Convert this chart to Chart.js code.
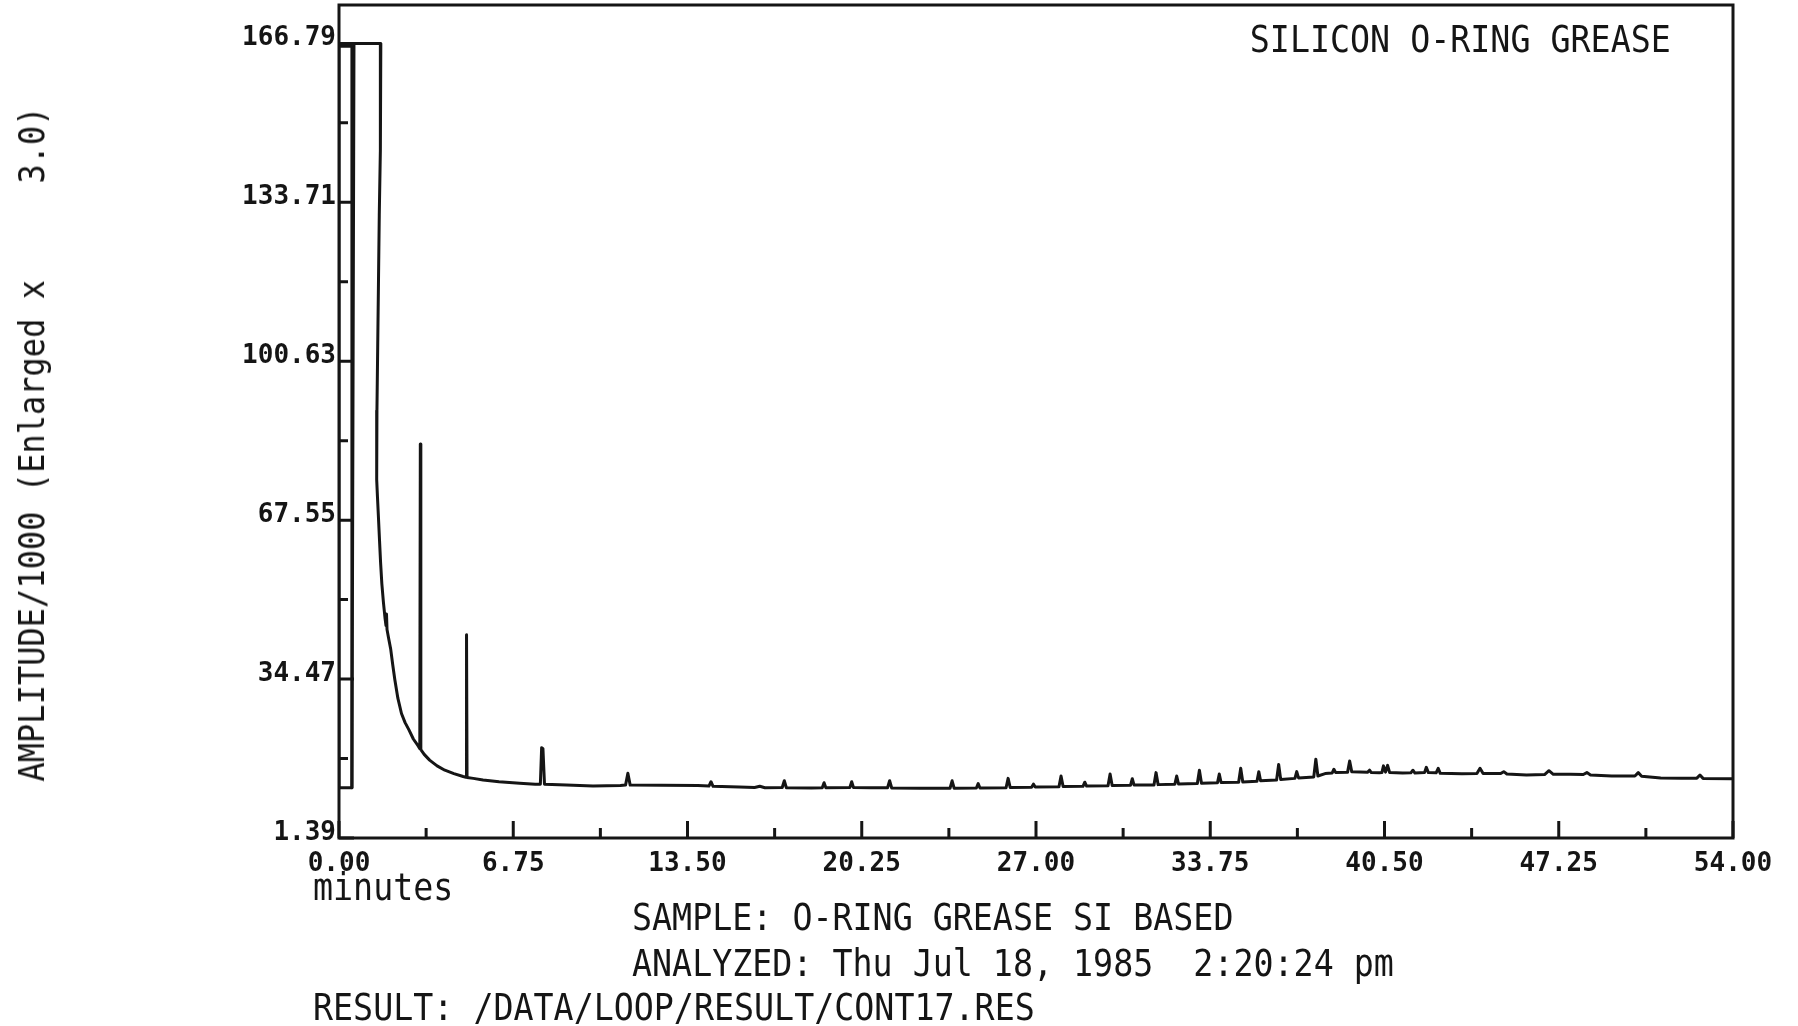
<!DOCTYPE html>
<html>
<head>
    <title>Silicon O-Ring Grease</title>
    <script src="https://cdn.jsdelivr.net/npm/chart.js"></script>
    <style>
        body { margin: 0; background: #fff; }
        #wrap { position: relative; width: 1798px; height: 1026px; }
        .txt { position: absolute; font-family: 'DejaVu Sans Mono', monospace; font-size: 37px;
               line-height: 1; color: #151515; white-space: pre; transform-origin: left top;
               transform: scaleX(0.9); }
        #title { right: 127px; top: 21px; transform-origin: right top; }
        #ytitle { left: 32px; top: 444px; font-size: 36px; transform-origin: 50% 50%;
                  transform: translate(-50%, -50%) rotate(-90deg) scaleX(0.89); }
    </style>
</head>
<body>
<div id="wrap">
    <canvas id="chromChart" width="1798" height="1026"></canvas>
    <div class="txt" id="title">SILICON O-RING GREASE</div>
    <div class="txt" id="ytitle">AMPLITUDE/1000 (Enlarged x     3.0)</div>
    <div class="txt" style="left:313px; top:869px;">minutes</div>
    <div class="txt" style="left:632px; top:899px;">SAMPLE: O-RING GREASE SI BASED</div>
    <div class="txt" style="left:632px; top:945px;">ANALYZED: Thu Jul 18, 1985  2:20:24 pm</div>
    <div class="txt" style="left:313px; top:989px;">RESULT: /DATA/LOOP/RESULT/CONT17.RES</div>
</div>

<script>
    // axis ticks (minutes / amplitude)
    const xTickValues = [0, 6.75, 13.5, 20.25, 27, 33.75, 40.5, 47.25, 54];
    const yTickValues = [1.39, 34.47, 67.55, 100.63, 133.71, 166.79];

    // off-scale solvent front drawn as a box at the start
    const boxTimes = [0, 0.5, 0.5, 0, 0];
    const boxAmps  = [11.86, 11.86, 166.2, 166.2, 11.86];

    // main trace
    const traceTimes = [
        0.5, 0.58, 1.62, 1.61, 1.595, 1.56, 1.53, 1.50, 1.47, 1.45, 1.47, 1.49, 1.53, 1.57, 1.61,
        1.66, 1.72, 1.78, 1.82, 1.84, 1.86, 1.92, 2.00, 2.08, 2.16, 2.28, 2.42, 2.56, 2.71, 2.88,
        3.06, 3.13, 3.15, 3.17, 3.30, 3.51, 3.80, 4.10, 4.45, 4.81, 4.92, 4.94, 4.96, 5.20, 5.58,
        6.20, 7.00, 7.60, 7.80, 7.85, 7.90, 7.96, 8.81, 9.84, 10.90, 11.10, 11.19, 11.28, 12.50, 13.90,
        14.33, 14.41, 14.49, 15.50, 16.10, 16.30, 16.50, 17.17, 17.25, 17.33, 18.30, 18.72, 18.79, 18.86,
        19.79, 19.86, 19.93, 20.60, 21.25, 21.33, 21.41, 22.50, 23.67, 23.75, 23.83, 24.69, 24.76, 24.83,
        25.84, 25.92, 26.00, 26.83, 26.90, 26.97, 27.89, 27.97, 28.05, 28.82, 28.89, 28.96, 29.79, 29.87,
        29.95, 30.66, 30.73, 30.80, 31.57, 31.65, 31.73, 32.38, 32.45, 32.52, 33.25, 33.33, 33.41, 34.03,
        34.10, 34.17, 34.85, 34.93, 35.01, 35.56, 35.63, 35.70, 36.32, 36.40, 36.48, 37.03, 37.10, 37.17,
        37.76, 37.84, 37.92, 38.20, 38.47, 38.54, 38.61, 39.07, 39.15, 39.23, 39.85, 39.92, 39.99, 40.30,
        40.40, 40.46, 40.54, 40.62, 40.70, 41.20, 41.52, 41.60, 41.68, 42.05, 42.12, 42.20, 42.50, 42.58,
        42.66, 43.50, 44.08, 44.20, 44.32, 45.00, 45.12, 45.24, 46.00, 46.70, 46.87, 47.04, 47.70, 48.20,
        48.34, 48.48, 49.30, 50.20, 50.33, 50.46, 51.20, 52.00, 52.60, 52.72, 52.84, 54.00
    ];
    const traceAmps = [
        11.86, 166.79, 166.79, 155.0, 144.6, 131.0, 117.5, 104.0, 90.4, 81.4, 76.0, 72.4, 67.9, 63.3, 58.8,
        54.3, 50.5, 47.3, 45.6, 48.0, 44.8, 43.0, 40.8, 37.5, 34.45, 30.5, 27.3, 25.4, 23.9, 22.0,
        20.6, 20.0, 83.4, 19.8, 18.8, 17.6, 16.4, 15.5, 14.8, 14.2, 14.05, 43.7, 14.0, 13.8, 13.46,
        13.1, 12.78, 12.6, 12.6, 20.2, 20.0, 12.6, 12.43, 12.2, 12.3, 12.4, 14.85, 12.4, 12.35, 12.3,
        12.2, 13.1, 12.15, 12.0, 11.9, 12.15, 11.85, 11.9, 13.3, 11.85, 11.8, 11.85, 12.9, 11.85,
        11.9, 13.1, 11.9, 11.85, 11.85, 13.3, 11.8, 11.75, 11.75, 13.3, 11.75, 11.8, 12.7, 11.8,
        11.85, 13.8, 11.9, 11.95, 12.6, 12.0, 12.05, 14.3, 12.1, 12.15, 13.0, 12.2, 12.25, 14.7,
        12.3, 12.35, 13.74, 12.4, 12.42, 15.0, 12.5, 12.6, 14.3, 12.65, 12.75, 15.5, 12.8, 12.9,
        14.7, 12.95, 13.0, 15.9, 13.05, 13.2, 15.2, 13.3, 13.45, 16.7, 13.55, 13.8, 15.2, 13.9,
        14.1, 17.8, 14.3, 14.8, 14.9, 15.7, 15.0, 15.1, 17.4, 15.2, 15.1, 15.5, 15.0, 14.95,
        15.0, 16.4, 15.1, 16.5, 15.0, 14.9, 14.95, 15.5, 14.9, 15.0, 16.1, 15.0, 14.95, 15.9,
        14.85, 14.75, 14.8, 15.9, 14.8, 14.8, 15.2, 14.7, 14.5, 14.6, 15.4, 14.65, 14.65, 14.6,
        15.0, 14.5, 14.3, 14.3, 15.0, 14.25, 13.9, 13.85, 13.85, 14.5, 13.8, 13.7
    ];

    const ink = '#151515';
    const tickFont = { family: 'DejaVu Sans Mono', size: 26, weight: 'bold' };

    const midpoints = arr => arr.slice(1).map((v, i) => (v + arr[i]) / 2);
    const xMinor = midpoints(xTickValues);
    const yMinor = midpoints(yTickValues);

    // plotter style frame with ticks pointing into the plot
    const framePlugin = {
        id: 'frame',
        afterDraw(chart) {
            const { ctx, chartArea: a, scales: { x, y } } = chart;
            ctx.save();
            ctx.strokeStyle = ink;
            ctx.lineWidth = 3;
            ctx.strokeRect(a.left, a.top, a.right - a.left, a.bottom - a.top);
            ctx.beginPath();
            yTickValues.forEach(v => { const p = y.getPixelForValue(v); ctx.moveTo(a.left, p); ctx.lineTo(a.left + 15, p); });
            yMinor.forEach(v => { const p = y.getPixelForValue(v); ctx.moveTo(a.left, p); ctx.lineTo(a.left + 9, p); });
            xTickValues.forEach(v => { const p = x.getPixelForValue(v); ctx.moveTo(p, a.bottom); ctx.lineTo(p, a.bottom - 17); });
            xMinor.forEach(v => { const p = x.getPixelForValue(v); ctx.moveTo(p, a.bottom); ctx.lineTo(p, a.bottom - 10); });
            ctx.stroke();
            ctx.restore();
        }
    };

    const toPoints = (xs, ys) => xs.map((t, i) => ({ x: t, y: ys[i] }));
    const lineStyle = { borderColor: ink, borderWidth: 3, pointRadius: 0, tension: 0,
                        borderJoinStyle: 'round', borderCapStyle: 'round', fill: false };

    const ctx = document.getElementById('chromChart').getContext('2d');
    const chart = new Chart(ctx, {
        type: 'line',
        data: {
            datasets: [
                { label: 'front', data: toPoints(boxTimes, boxAmps), ...lineStyle },
                { label: 'signal', data: toPoints(traceTimes, traceAmps), ...lineStyle }
            ]
        },
        options: {
            responsive: false,
            animation: false,
            layout: { padding: { left: 0, top: 5, right: 65, bottom: 0 } },
            plugins: { legend: { display: false }, tooltip: { enabled: false } },
            scales: {
                x: {
                    type: 'linear', min: 0, max: 54,
                    grid: { display: false, drawTicks: false },
                    border: { display: false },
                    afterBuildTicks: s => { s.ticks = xTickValues.map(v => ({ value: v })); },
                    afterFit: s => { s.height = 188; s.paddingLeft = 0; s.paddingRight = 0; },
                    ticks: { callback: v => Number(v).toFixed(2), font: tickFont, color: ink,
                             padding: 11, maxRotation: 0, autoSkip: false }
                },
                y: {
                    type: 'linear', min: 1.39, max: 174.78,
                    grid: { display: false, drawTicks: false },
                    border: { display: false },
                    afterBuildTicks: s => { s.ticks = yTickValues.map(v => ({ value: v })); },
                    afterFit: s => { s.width = 339; s.paddingTop = 0; s.paddingBottom = 0; },
                    ticks: { callback: v => Number(v).toFixed(2), font: tickFont, color: ink,
                             padding: 3, labelOffset: -5, autoSkip: false }
                }
            }
        },
        plugins: [framePlugin]
    });
</script>
</body>
</html>
